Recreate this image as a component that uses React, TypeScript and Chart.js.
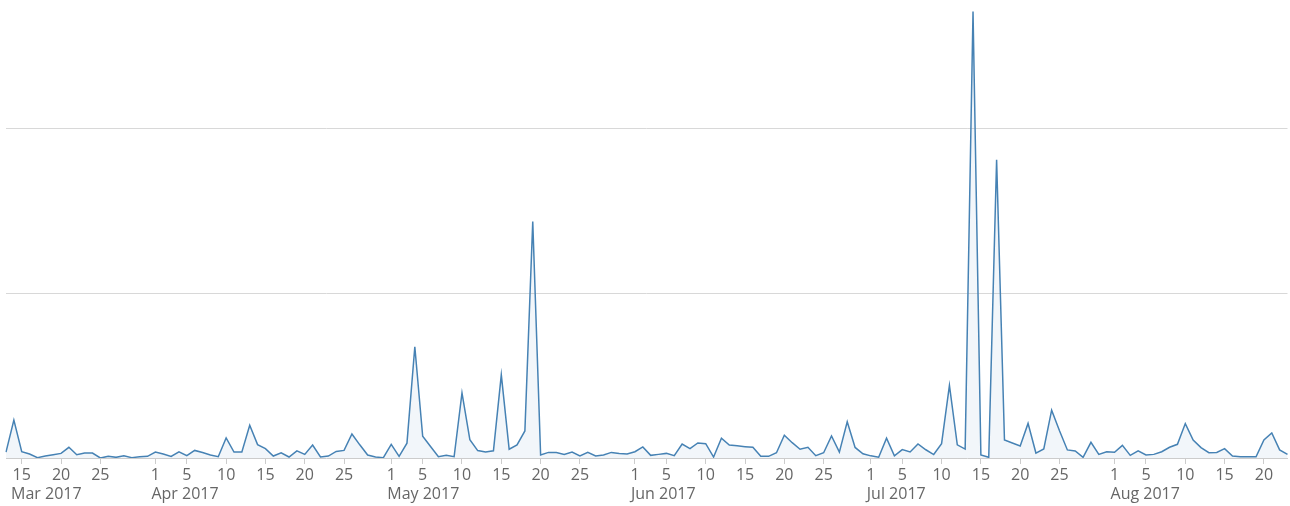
import React, { useEffect, useRef } from "react";
import { Chart, registerables } from "chart.js";

Chart.register(...registerables);

// Daily values, Mar 13 2017 .. Aug 23 2017 (one gridline step = 100)
const startDate = "2017-03-13";
const marValues = [3.6, 23, 3.8, 2.4, 0.2, 1.2, 2, 2.8, 6.5, 2, 3, 3, 0, 1, 0.4, 1.4, 0.2, 0.8, 1];
const aprValues = [3.6, 2.4, 1, 3.8, 1.4, 4.6, 3.3, 1.8, 0.8, 12.2, 3.6, 3.6, 19.9, 8.1, 5.7, 1.2, 3.2, 0.6, 4.3, 2.2, 7.9, 0.6, 1.2, 4, 4.6, 14.6, 8, 1.8, 0.6, 0.2];
const mayValues = [8.3, 1, 9, 67.5, 13.2, 7, 0.8, 1.6, 0.8, 39.5, 11.1, 4.5, 3.6, 4.4, 50.5, 5.3, 7.9, 16.4, 143.5, 1.8, 3.4, 3.4, 2.2, 3.6, 1.2, 3.4, 1.2, 1.8, 3.4, 2.8, 2.4];
const junValues = [3.8, 6.7, 1.6, 2.2, 2.8, 1.4, 8.5, 5.7, 9.1, 8.7, 0.6, 12, 7.9, 7.4, 6.9, 6.5, 1, 1, 3.2, 13.8, 9.3, 5.3, 6.5, 1.4, 3.2, 13.4, 3.6, 22, 6.4, 2.6];
const julValues = [1.3, 0.5, 12, 1.3, 5.1, 3.7, 8.5, 5, 2.1, 8.7, 44, 8, 5.4, 271, 1.8, 0.4, 181, 10.9, 9.1, 7.3, 21, 3, 5.5, 29, 16.5, 4.9, 4.3, 0.4, 9.5, 2.2, 3.8];
const augValues = [3.5, 7.7, 1.6, 4.3, 1.8, 2.2, 3.8, 6.5, 8.3, 20.9, 10.9, 6.3, 3.2, 3.4, 5.7, 1.2, 0.7, 0.7, 0.7, 10.9, 15.2, 4.9, 2.2];

const values = [...marValues, ...aprValues, ...mayValues, ...junValues, ...julValues, ...augValues];

function buildDates(start: string, n: number): string[] {
  const out: string[] = [];
  const d = new Date(start + "T00:00:00Z");
  for (let i = 0; i < n; i++) {
    const c = new Date(d.getTime() + i * 86400000);
    out.push(c.toISOString().slice(0, 10));
  }
  return out;
}
const categories = buildDates(startDate, values.length);

const tickDays = [1, 5, 10, 15, 20, 25];
const monthLabels = ["Mar 2017", "Apr 2017", "May 2017", "Jun 2017", "Jul 2017", "Aug 2017"];
const monthAnchors = ["2017-03-13", "2017-04-01", "2017-05-01", "2017-06-01", "2017-07-01", "2017-08-01"];
const gridValues = [100, 200];

const FONT = '"Open Sans", "DejaVu Sans", sans-serif';
const TEXT = "#666666";

const monthLabelPlugin = {
  id: "monthLabels",
  afterDraw(chart: any) {
    const xs = chart.scales.x;
    const ctx = chart.ctx;
    ctx.save();
    ctx.font = `16px ${FONT}`;
    ctx.fillStyle = TEXT;
    ctx.textAlign = "left";
    ctx.textBaseline = "alphabetic";
    monthAnchors.forEach((d, i) => {
      const idx = categories.indexOf(d);
      if (idx < 0) return;
      const px = xs.getPixelForValue(idx);
      ctx.fillText(monthLabels[i], Math.max(px - 4, chart.chartArea.left + 5), xs.top + 41);
    });
    ctx.restore();
  },
};

export default function App() {
  const ref = useRef<HTMLCanvasElement | null>(null);
  useEffect(() => {
    if (!ref.current) return;
    const chart = new Chart(ref.current, {
      type: "line",
      data: {
        labels: categories,
        datasets: [
          {
            data: values,
            borderColor: "#4682b4",
            borderWidth: 1.5,
            backgroundColor: "rgba(70,130,180,0.07)",
            fill: "origin",
            pointRadius: 0,
            pointHoverRadius: 0,
            tension: 0,
          },
        ],
      },
      options: {
        animation: false,
        responsive: false,
        events: [],
        layout: { padding: { left: 6, right: 2.5, top: 0, bottom: 0 } },
        plugins: { legend: { display: false }, tooltip: { enabled: false } },
        scales: {
          x: {
            type: "category",
            offset: false,
            afterFit: (scale: any) => {
              scale.height = 48;
            },
            grid: {
              drawOnChartArea: false,
              drawTicks: true,
              tickLength: 6,
              color: "#cccccc",
            },
            border: { display: true, color: "#cccccc", width: 1 },
            ticks: {
              autoSkip: false,
              maxRotation: 0,
              minRotation: 0,
              padding: 2,
              color: TEXT,
              font: { family: FONT, size: 16 },
              callback: function (this: any, value: any) {
                const lab: string = this.getLabelForValue(value);
                const day = parseInt(lab.slice(8, 10), 10);
                return tickDays.includes(day) ? String(day) : null;
              },
            },
          },
          y: {
            min: 0,
            max: 278,
            ticks: { display: false, stepSize: 100 },
            grid: {
              drawTicks: false,
              lineWidth: 1,
              color: (ctx: any) =>
                ctx.tick && gridValues.includes(ctx.tick.value) ? "#d8d8d8" : "rgba(0,0,0,0)",
            },
            border: { display: false },
          },
        },
      },
      plugins: [monthLabelPlugin],
    });
    return () => chart.destroy();
  }, []);

  return (
    <div style={{ position: "absolute", left: 0, top: 0, width: 1290, height: 506, background: "#fff" }}>
      <canvas ref={ref} width={1290} height={506} style={{ display: "block" }} />
    </div>
  );
}
